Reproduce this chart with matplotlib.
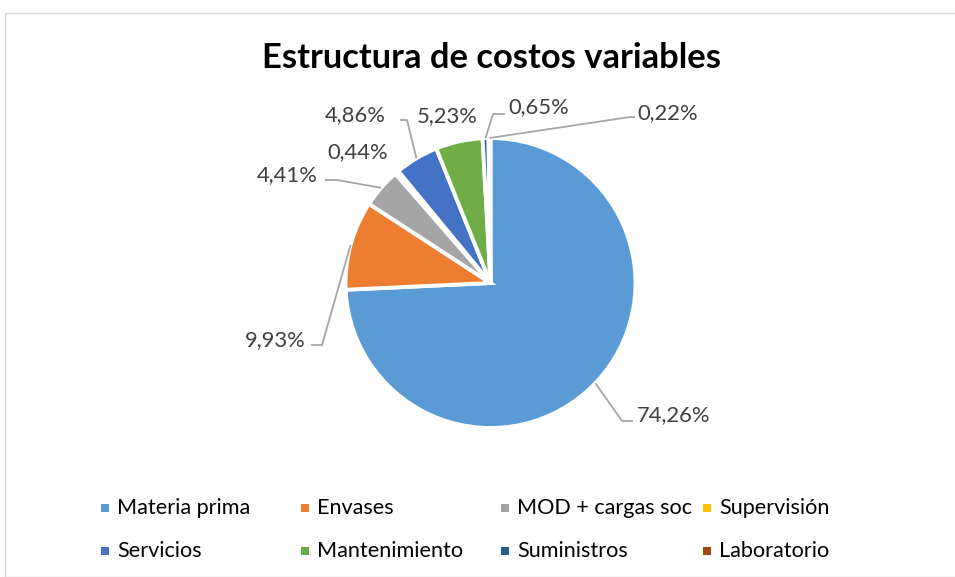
import matplotlib
matplotlib.use("Agg")
import matplotlib.pyplot as plt
from matplotlib.patches import Rectangle
import numpy as np

# Data
categories = ["Materia prima", "Envases", "MOD + cargas soc", "Supervisión",
              "Servicios", "Mantenimiento", "Suministros", "Laboratorio"]
shares = [74.26, 9.93, 4.41, 0.44, 4.86, 5.23, 0.65, 0.22]
colors = ["#5b9bd5", "#ed7d31", "#a5a5a5", "#ffc000",
          "#4472c4", "#70ad47", "#255e91", "#9e480e"]
title = "Estructura de costos variables"

W, H = 955, 577
FONT = "Lato"
TXT = "#404040"
LINE = "#a6a6a6"

fig = plt.figure(figsize=(W / 100, H / 100), dpi=100)
ax = fig.add_axes([0, 0, 1, 1])


def px(x, y):
    """Pixel position (origin top-left) to axes data coordinates."""
    return x, H - y


# chart frame
fig.patches.append(Rectangle((5 / W, 0), 1, 1 - 13 / H, transform=fig.transFigure,
                             fill=False, edgecolor="#d9d9d9", linewidth=1.0))

cx, cy = px(490.5, 283)
R = 145
wedges, _ = ax.pie(shares, colors=colors, startangle=90, counterclock=False,
                   center=(cx, cy), radius=R, frame=True,
                   wedgeprops=dict(edgecolor="white", linewidth=2.8))
ax.set_xlim(0, W)
ax.set_ylim(0, H)
ax.set_aspect("equal")
ax.axis("off")

# label placement: text anchor (pixels) and leader-line elbow (pixels or None)
label_pos = [
    dict(text=(637, 415), ha="left", elbow=[(622, 421), (633, 421)]),
    dict(text=(306, 340), ha="right", elbow=[(322, 345), (311, 345)]),
    dict(text=(318, 175), ha="right", elbow=[(337, 180), (325, 180)]),
    dict(text=(358, 152), ha="center", elbow=None),
    dict(text=(386, 115), ha="right", elbow=[(407, 120), (400, 120)]),
    dict(text=(447, 116), ha="center", elbow=None),
    dict(text=(508, 107), ha="left", elbow=[(493, 114), (505, 114)]),
    dict(text=(637, 113), ha="left", elbow=[(630, 117), (635, 117)]),
]

for w, v, lp in zip(wedges, shares, label_pos):
    mid = np.deg2rad((w.theta1 + w.theta2) / 2)
    ex, ey = cx + R * np.cos(mid), cy + R * np.sin(mid)
    if lp["elbow"] is not None:
        xs = [ex] + [p[0] for p in lp["elbow"]]
        ys = [ey] + [H - p[1] for p in lp["elbow"]]
        ax.plot(xs, ys, color=LINE, linewidth=1.3, solid_capstyle="butt")
    tx, ty = px(*lp["text"])
    ax.text(tx, ty, f"{v:.2f}%".replace(".", ","), ha=lp["ha"], va="center",
            fontsize=15.8, color=TXT, family=FONT)

ax.text(*px(491, 58), title, ha="center", va="center", fontsize=24.8,
        fontweight="bold", color="black", family=FONT)

# legend, row-major, four columns
col_x = [105, 305, 505, 707]
row_y = [508, 551]
for i, (name, c) in enumerate(zip(categories, colors)):
    r, k = divmod(i, 4)
    mx, my = px(col_x[k], row_y[r])
    ax.add_patch(Rectangle((mx - 4, my - 4), 8, 8, facecolor=c, edgecolor="none"))
    ax.text(mx + 12, my, name, ha="left", va="center", fontsize=15.6,
            color="black", family=FONT)

fig.savefig("out.png", dpi=100, facecolor="white")
